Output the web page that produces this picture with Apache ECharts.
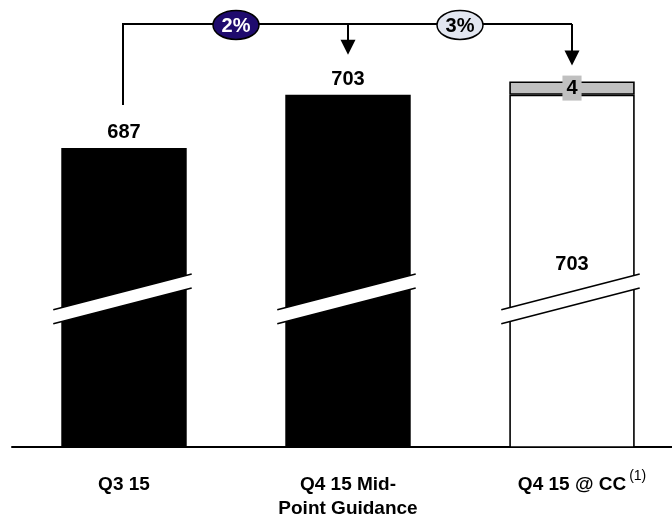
<!DOCTYPE html>
<html>
<head>
<meta charset="utf-8">
<script src="https://cdn.jsdelivr.net/npm/echarts@6/dist/echarts.min.js"></script>
<style>
  html, body { margin: 0; padding: 0; background: #fff; overflow: hidden; }
  /* the plot runs slightly past the right edge of the page */
  #chart { width: 684px; height: 521px; }
</style>
</head>
<body>
<div id="chart"></div>
<script>
// Revenue bridge: Q3 15 actual -> Q4 15 guidance -> Q4 15 at constant currency
const categories = ['Q3 15', 'Q4 15 Mid-\nPoint Guidance', 'Q4 15 @ CC'];
const baseValues = [687, 703, 703];
const ccAdjust = [null, null, 4];
const changeLabels = ['2%', '3%'];
const footnote = '(1)';

// Truncated value axis (bars are shown with break marks)
const Y_MIN = 597;
const Y_MAX = 730;
const BREAK_AT = 641.7;
const BAR_RATIO = 0.56;

const FONT = "Arial, 'Liberation Sans', Helvetica, sans-serif";
const INK = '#000000';
const CAT_SIZE = 19;
const CAT_MARGIN = 26;
const CAT_LINE = 24;

const chart = echarts.init(document.getElementById('chart'), null, { renderer: 'canvas' });

const valueLabel = {
  show: true,
  position: 'top',
  distance: 5,
  color: INK,
  fontFamily: FONT,
  fontWeight: 'bold',
  fontSize: 20
};

const baseData = baseValues.map((v, i) => {
  if (i === 2) {
    return {
      value: v,
      itemStyle: { color: '#ffffff', borderColor: INK, borderWidth: 1.6 },
      label: Object.assign({}, valueLabel, {
        position: ['50%', '48%'], align: 'center', verticalAlign: 'middle', distance: 0
      })
    };
  }
  return { value: v, itemStyle: { color: INK } };
});

// Slanted double-line break drawn across each bar
function renderBreak(params, api) {
  const c = api.coord([api.value(0), BREAK_AT]);
  const w = api.size([1, 0])[0] * BAR_RATIO;
  const slope = 0.259;
  const h = 7;
  const xa = c[0] - w / 2 - 8;
  const xb = c[0] + w / 2 + 5;
  const ya = c[1] + (c[0] - xa) * slope;
  const yb = c[1] - (xb - c[0]) * slope;
  return {
    type: 'group',
    children: [
      { type: 'polygon', shape: { points: [[xa, ya - h], [xb, yb - h], [xb, yb + h], [xa, ya + h]] },
        style: { fill: '#ffffff' } },
      { type: 'line', shape: { x1: xa, y1: ya - h, x2: xb, y2: yb - h },
        style: { stroke: INK, lineWidth: 1.6 } },
      { type: 'line', shape: { x1: xa, y1: ya + h, x2: xb, y2: yb + h },
        style: { stroke: INK, lineWidth: 1.6 } }
    ]
  };
}

chart.setOption({
  animation: false,
  backgroundColor: '#ffffff',
  grid: { left: 12, right: 0, top: 5, bottom: 68, containLabel: false },
  xAxis: {
    type: 'category',
    data: categories,
    axisLine: { show: true, lineStyle: { color: INK, width: 2 } },
    axisTick: { show: false },
    axisLabel: {
      interval: 0,
      margin: CAT_MARGIN,
      color: INK,
      fontFamily: FONT,
      fontWeight: 'bold',
      fontSize: CAT_SIZE,
      lineHeight: CAT_LINE
    }
  },
  yAxis: {
    type: 'value',
    min: Y_MIN,
    max: Y_MAX,
    show: false,
    splitLine: { show: false }
  },
  series: [
    {
      name: 'Revenue',
      type: 'bar',
      stack: 'rev',
      barWidth: (BAR_RATIO * 100) + '%',
      data: baseData,
      label: valueLabel,
      z: 2
    },
    {
      name: 'Constant currency',
      type: 'bar',
      stack: 'rev',
      barWidth: (BAR_RATIO * 100) + '%',
      data: ccAdjust,
      itemStyle: { color: '#c0c0c0', borderColor: INK, borderWidth: 1.6 },
      label: {
        show: true,
        position: 'inside',
        color: INK,
        fontFamily: FONT,
        fontWeight: 'bold',
        fontSize: 20,
        backgroundColor: '#c0c0c0',
        padding: [3, 4, 2, 4]
      },
      z: 3
    },
    {
      name: 'Axis break',
      type: 'custom',
      renderItem: renderBreak,
      data: categories.map((c, i) => [i]),
      encode: { x: 0 },
      z: 4,
      silent: true
    }
  ]
});

// Bridge connector with growth ellipses, positioned from the axis scales
function px(i, v) { return chart.convertToPixel({ xAxisIndex: 0, yAxisIndex: 0 }, [i, v]); }
const p1 = px(0, baseValues[0]);
const p2 = px(1, baseValues[1]);
const p3 = px(2, baseValues[2] + ccAdjust[2]);
const axisY = px(0, Y_MIN)[1];
const yLine = 24;
const lineStyle = { stroke: INK, lineWidth: 2 };

function arrow(x, tipY) {
  const headH = 15, headW = 15;
  return [
    { type: 'line', shape: { x1: x, y1: yLine, x2: x, y2: tipY - headH + 1 }, style: lineStyle, z: 10 },
    { type: 'polygon', shape: { points: [[x - headW / 2, tipY - headH], [x + headW / 2, tipY - headH], [x, tipY]] },
      style: { fill: INK }, z: 10 }
  ];
}

function ellipse(cx, text, fill, textColor) {
  return [
    { type: 'ellipse', z: 20, shape: { cx: cx, cy: yLine + 1, rx: 23, ry: 14.5 },
      style: { fill: fill, stroke: INK, lineWidth: 1.5 } },
    { type: 'text', z: 21, x: cx, y: yLine + 2,
      style: { text: text, fill: textColor, font: 'bold 20px ' + FONT, align: 'center', verticalAlign: 'middle' } }
  ];
}

// Footnote marker set as a superscript after the last category label
const measure = document.createElement('canvas').getContext('2d');
measure.font = 'bold ' + CAT_SIZE + 'px ' + FONT;
const lastLabelWidth = measure.measureText(categories[2]).width;
const labelMidY = axisY + CAT_MARGIN + CAT_LINE / 2;

chart.setOption({
  graphic: [
    { type: 'line', shape: { x1: p1[0] - 1, y1: p1[1] - 43, x2: p1[0] - 1, y2: yLine }, style: lineStyle, z: 10 },
    { type: 'line', shape: { x1: p1[0] - 2, y1: yLine, x2: p3[0], y2: yLine }, style: lineStyle, z: 10 },
    ...arrow(p2[0], p2[1] - 40),
    ...arrow(p3[0], p3[1] - 16),
    ...ellipse((p1[0] + p2[0]) / 2, changeLabels[0], '#1f0b6e', '#ffffff'),
    ...ellipse((p2[0] + p3[0]) / 2, changeLabels[1], '#e2e6f0', INK),
    { type: 'text', z: 10, x: p3[0] + lastLabelWidth / 2 + 3, y: labelMidY - 9,
      style: { text: footnote, fill: INK, font: '14px ' + FONT, align: 'left', verticalAlign: 'middle' } }
  ]
});
</script>
</body>
</html>
